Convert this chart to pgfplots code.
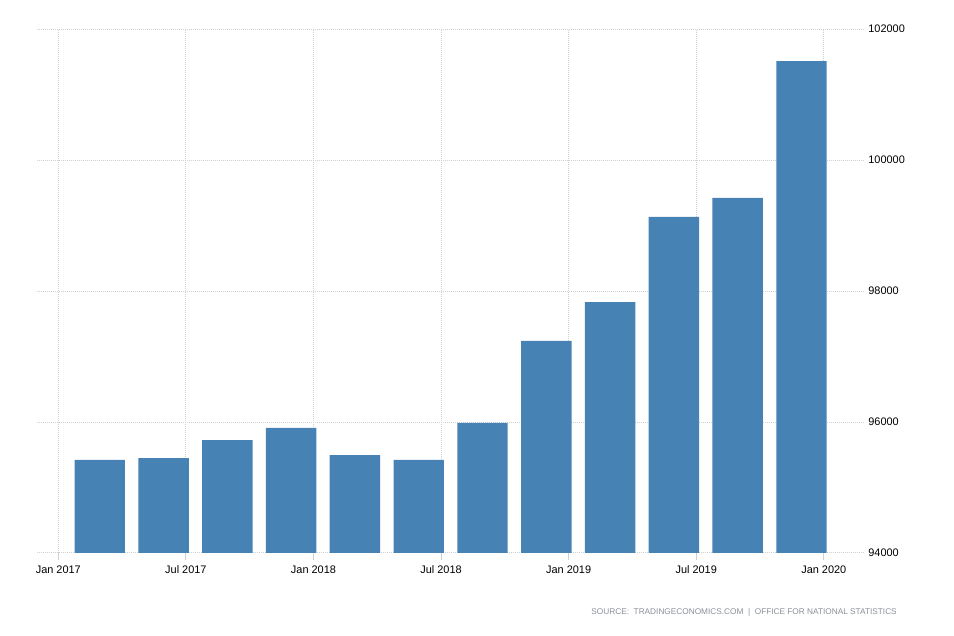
\documentclass[border=0pt]{standalone}
\usepackage{pgfplots}
\pgfplotsset{compat=1.18}
\usepackage{fontspec}
\setmainfont{Liberation Sans}
\definecolor{barblue}{HTML}{4682B4}
\definecolor{gridgray}{HTML}{D0D0D0}
\definecolor{srcgray}{HTML}{8A8F99}
\begin{document}
\begin{tikzpicture}
\path[use as bounding box] (0,0) rectangle (715.5pt,477pt);
\begin{axis}[
  at={(27.75pt,62.25pt)}, anchor=south west,
  scale only axis, width=620.25pt, height=393pt,
  xmin=-0.334, xmax=12.63,
  ymin=94000, ymax=102000,
  axis x line*=bottom, axis y line*=right,
  axis line style={draw=none},
  xtick={0,2,4,6,8,10,12},
  xticklabels={Jan 2017,Jul 2017,Jan 2018,Jul 2018,Jan 2019,Jul 2019,Jan 2020},
  ytick={94000,96000,98000,100000,102000},
  yticklabels={94000,96000,98000,100000,102000},
  scaled y ticks=false,
  y tick label style={anchor=west, xshift=-5.5pt, font=\fontsize{8.2pt}{9pt}\selectfont},
  x tick label style={font=\fontsize{8.2pt}{9pt}\selectfont, yshift=-1pt},
  tick align=outside,
  major tick length=5.25pt,
  x tick style={draw=gridgray, line width=0.75pt},
  y tick style={draw=none},
  grid=major,
  major grid style={draw=gridgray, line width=0.75pt, dash pattern=on 0.75pt off 0.75pt},
  clip=true,
]
\addplot[ybar, bar shift=0pt, bar width=0.79, fill=barblue, draw=none] coordinates {
(0.65,95420) (1.65,95450) (2.65,95725) (3.65,95910) (4.65,95496) (5.65,95420)
(6.65,95985) (7.65,97237) (8.65,97832) (9.65,99130) (10.65,99420) (11.65,101510)
};
\end{axis}
\node[anchor=east, inner sep=0pt, text=srcgray, font=\fontsize{6.2pt}{7pt}\selectfont] at (672.75pt,18pt) {SOURCE:\ \ TRADINGECONOMICS.COM\ \ |\ \ OFFICE\ FOR\ NATIONAL\ STATISTICS};
\end{tikzpicture}
\end{document}
